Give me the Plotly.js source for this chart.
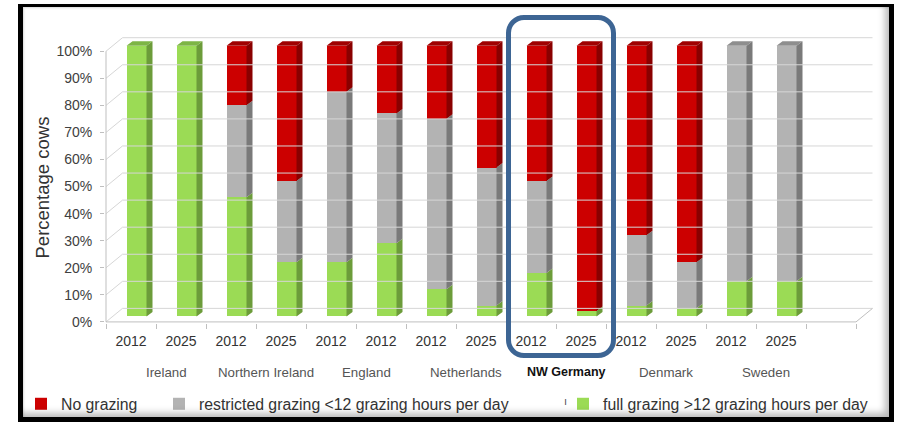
<!DOCTYPE html>
<html><head><meta charset="utf-8">
<script src="https://cdn.plot.ly/plotly-3.0.1.min.js"></script>
<style>
html,body{margin:0;padding:0;background:#fff;}
#wrap{position:relative;width:897px;height:422px;overflow:hidden;background:#fff;}
#chart{position:absolute;left:0;top:0;width:897px;height:422px;}
#frame{position:absolute;left:18px;top:4px;width:876px;height:418px;box-sizing:border-box;border-style:solid;border-color:#000;border-width:3px 5px 5px 5px;box-shadow:inset -8px -8px 7px -4px rgba(0,0,0,0.28), inset 2px 2px 2px -1px rgba(0,0,0,0.15);pointer-events:none;}
#highlight{position:absolute;left:506px;top:15px;width:110px;height:343px;box-sizing:border-box;border:5px solid #3D6594;border-radius:18px;pointer-events:none;}
</style></head>
<body>
<div id="wrap"><div id="chart"></div><div id="frame"></div><div id="highlight"></div></div>
<script>
// ---- data ----
const countries = ['Ireland', 'Northern Ireland', 'England', 'Netherlands', 'NW Germany', 'Denmark', 'Sweden'];
const yearLabels = ['2012', '2025', '2012', '2025', '2012', '2012', '2012', '2025', '2012', '2025', '2012', '2025', '2012', '2025'];
const fullGrazing = [100, 100, 44, 20, 20, 27, 10, 4, 16, 2, 4, 3, 13, 13];
const restricted  = [0, 0, 34, 30, 63, 48, 63, 51, 34, 0, 26, 17, 87, 87];
const noGrazing   = [0, 0, 22, 50, 17, 25, 27, 45, 50, 98, 70, 80, 0, 0];
const seriesNames = ['No grazing', 'restricted grazing <12 grazing hours per day', 'full grazing >12 grazing hours per day'];
const yTicks = [0, 10, 20, 30, 40, 50, 60, 70, 80, 90, 100];

// ---- geometry / style ----
const FONT = 'Liberation Sans, Arial, sans-serif';
const BAR_W = 0.4, BAR_OFF = -0.09, DX = 0.12, DY = 1.66;
const WALL_X = 0.33, WALL_Y = 5.0;
const idx = yearLabels.map((_, i) => i);
const nSlots = yearLabels.length + 1;           // one empty slot at the right
const frontEnd = nSlots - 0.5;
const XR = [-0.52, frontEnd + 0.36];
const YR = [-0.4, 106];
const BAR_SHIFT = 2.03;
const YR2 = [YR[0] - BAR_SHIFT, YR[1] - BAR_SHIFT];

const series = [
  {name: seriesNames[2], vals: fullGrazing, front: '#9BDB55', side: '#6C9C3A', top: '#7DB545', legend: 'legend3'},
  {name: seriesNames[1], vals: restricted,  front: '#B3B3B3', side: '#7A7A7A', top: '#8E8E8E', legend: 'legend2'},
  {name: seriesNames[0], vals: noGrazing,   front: '#CC0000', side: '#8A0000', top: '#A00000', legend: 'legend'}
];

const traces = [];

// gridlines (back wall) + left wall diagonals, on overlay x2
const gx = [], gy = [];
yTicks.forEach(v => {
  gx.push(-0.5, -0.5 + WALL_X, frontEnd + WALL_X, null);
  gy.push(v, v + WALL_Y, v + WALL_Y, null);
});
traces.push({type: 'scatter', mode: 'lines', x: gx, y: gy, xaxis: 'x2', yaxis: 'y',
  line: {color: '#d6d6d6', width: 1}, hoverinfo: 'skip', showlegend: false});
// floor front edge, right floor diagonal, front-left vertical edge
traces.push({type: 'scatter', mode: 'lines', xaxis: 'x2', yaxis: 'y',
  x: [-0.5, -0.5, frontEnd, frontEnd + WALL_X],
  y: [yTicks[yTicks.length - 1], 0, 0, WALL_Y],
  line: {color: '#bfbfbf', width: 1}, hoverinfo: 'skip', showlegend: false});

// bars (front faces)
series.forEach(s => {
  traces.push({type: 'bar', x: idx, y: s.vals, name: s.name, xaxis: 'x', yaxis: 'y2',
    width: BAR_W, offset: BAR_OFF, marker: {color: s.front, line: {width: 0}},
    legend: s.legend, hoverinfo: 'skip'});
});

// side faces and top faces
const cum = idx.map(() => 0);
const topOwner = idx.map(() => -1);
series.forEach((s, k) => {
  const sx = [], sy = [];
  idx.forEach(i => {
    const v = s.vals[i];
    if (v <= 0) return;
    const y0 = cum[i], y1 = cum[i] + v;
    cum[i] = y1; topOwner[i] = k;
    const xr = i + BAR_OFF + BAR_W;
    sx.push(xr, xr + DX, xr + DX, xr, xr, null);
    sy.push(y0, y0 + DY, y1 + DY, y1, y0, null);
  });
  traces.push({type: 'scatter', mode: 'lines', fill: 'toself', fillcolor: s.side, x: sx, y: sy,
    xaxis: 'x', yaxis: 'y2', line: {width: 0, color: s.side}, hoverinfo: 'skip', showlegend: false});
});
series.forEach((s, k) => {
  const tx = [], ty = [];
  idx.forEach(i => {
    if (topOwner[i] !== k) return;
    const t = cum[i], xl = i + BAR_OFF, xr = xl + BAR_W;
    tx.push(xl, xl + DX, xr + DX, xr, xl, null);
    ty.push(t, t + DY, t + DY, t, t, null);
  });
  traces.push({type: 'scatter', mode: 'lines', fill: 'toself', fillcolor: s.top, x: tx, y: ty,
    xaxis: 'x', yaxis: 'y2', line: {width: 0, color: s.top}, hoverinfo: 'skip', showlegend: false});
});

// ---- layout ----
const W = 897, H = 422, ML = 105, MR = 23, MT = 35, MB = 99;
const plotH = H - MT - MB;
const annotations = countries.map((c, k) => ({
  text: c === 'NW Germany' ? '<b>' + c + '</b>' : c,
  x: 2 * k + 0.5 + 0.2, xref: 'x', y: 0, yref: 'paper', yshift: -49,
  xanchor: 'center', yanchor: 'middle', showarrow: false,
  font: {family: FONT, size: c === 'NW Germany' ? 12.5 : 13.3, color: c === 'NW Germany' ? '#111' : '#555'}
}));
annotations.push({text: 'Percentage cows', xref: 'paper', x: 0, xshift: -63, yref: 'paper',
  y: (H - MB - 187.5) / plotH, textangle: -90, showarrow: false, xanchor: 'center', yanchor: 'middle',
  font: {family: FONT, size: 18.5, color: '#333'}});
annotations.push({text: 'ı', xref: 'paper', x: (565 - ML) / (W - ML - MR), yref: 'paper',
  y: (H - MB - 401) / plotH, yshift: -8, showarrow: false, font: {family: FONT, size: 11, color: '#555'}});

const legendBase = {xref: 'container', yref: 'container', y: 1 - 404 / H, yanchor: 'middle', xanchor: 'left',
  orientation: 'h', bgcolor: 'rgba(0,0,0,0)', font: {family: FONT, size: 15.8, color: '#333'}};

const layout = {
  width: W, height: H, margin: {l: ML, r: MR, t: MT, b: MB},
  paper_bgcolor: 'rgba(0,0,0,0)', plot_bgcolor: 'rgba(0,0,0,0)',
  barmode: 'stack', bargap: 0,
  font: {family: FONT},
  xaxis: {range: XR, tickmode: 'array', tickvals: idx, ticktext: yearLabels, ticks: '',
    showline: false, showgrid: false, zeroline: false, ticklabelstandoff: 8,
    tickfont: {family: FONT, size: 14, color: '#333'}},
  xaxis2: {range: XR, overlaying: 'x', anchor: 'y', side: 'bottom', tickmode: 'array',
    tickvals: Array.from({length: nSlots + 1}, (_, j) => j - 0.5),
    ticks: 'outside', ticklen: 5, tickcolor: '#bfbfbf', showticklabels: false,
    showline: false, showgrid: false, zeroline: false},
  yaxis: {range: YR, tickmode: 'array', tickvals: yTicks, ticktext: yTicks.map(v => v + '%'),
    ticks: 'outside', ticklen: 4, tickcolor: '#bfbfbf', showline: false, showgrid: false,
    zeroline: false, ticklabelstandoff: 5, tickfont: {family: FONT, size: 14, color: '#404040'}},
  yaxis2: {range: YR2, overlaying: 'y', anchor: 'x', showticklabels: false, ticks: '',
    showline: false, showgrid: false, zeroline: false},
  legend: Object.assign({}, legendBase, {x: 21 / W}),
  legend2: Object.assign({}, legendBase, {x: 159 / W}),
  legend3: Object.assign({}, legendBase, {x: 563 / W}),
  annotations: annotations,
  showlegend: true
};

Plotly.newPlot('chart', traces, layout, {staticPlot: true, displayModeBar: false});
</script>
</body></html>
